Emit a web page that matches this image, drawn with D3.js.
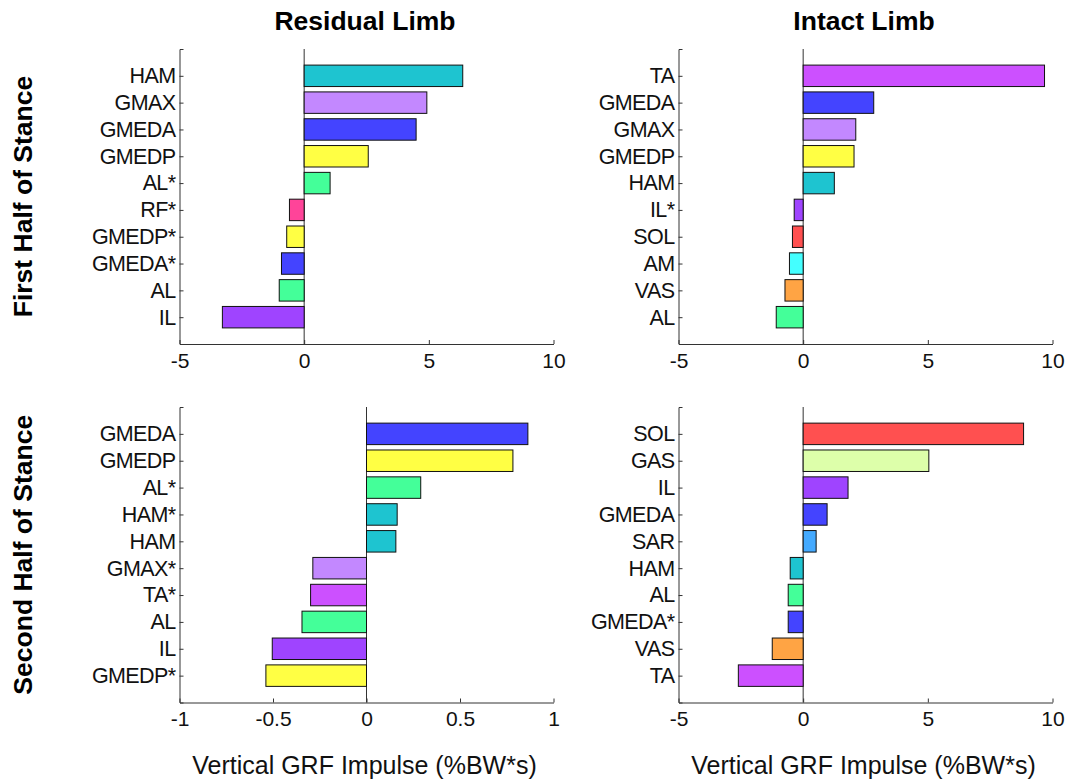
<!DOCTYPE html>
<html>
<head>
<meta charset="utf-8">
<script src="https://cdn.jsdelivr.net/npm/d3@7"></script>
<style>
  body { margin: 0; background: #fff; }
  svg, svg text { font-family: "Liberation Sans", Arial, sans-serif; }
</style>
</head>
<body>
<svg id="chart" width="1070" height="780"></svg>
<script>
// muscles per panel, listed top to bottom
const resFirstLabels = ['HAM', 'GMAX', 'GMEDA', 'GMEDP', 'AL*', 'RF*', 'GMEDP*', 'GMEDA*', 'AL', 'IL']
const resFirstValues = [6.36, 4.92, 4.49, 2.57, 1.04, -0.59, -0.70, -0.91, -1.0, -3.28]

const intFirstLabels = ['TA', 'GMEDA', 'GMAX', 'GMEDP', 'HAM', 'IL*', 'SOL', 'AM', 'VAS', 'AL']
const intFirstValues = [9.68, 2.83, 2.11, 2.04, 1.25, -0.36, -0.43, -0.55, -0.73, -1.08]

const resSecondLabels = ['GMEDA', 'GMEDP', 'AL*', 'HAM*', 'HAM', 'GMAX*', 'TA*', 'AL', 'IL', 'GMEDP*']
const resSecondValues = [0.863, 0.783, 0.29, 0.164, 0.157, -0.287, -0.299, -0.345, -0.504, -0.538]

const intSecondLabels = ['SOL', 'GAS', 'IL', 'GMEDA', 'SAR', 'HAM', 'AL', 'GMEDA*', 'VAS', 'TA']
const intSecondValues = [8.84, 5.04, 1.8, 0.96, 0.52, -0.52, -0.6, -0.6, -1.24, -2.6]

const bigTicks = [-5, 0, 5, 10]
const smallTicks = [-1, -0.5, 0, 0.5, 1]

const colTitles = ['Residual Limb', 'Intact Limb']
const rowTitles = ['First Half of Stance', 'Second Half of Stance']
const xTitle = 'Vertical GRF Impulse (%BW*s)'

const muscleColor = {
    HAM: '#1ec4d0', GMAX: '#c388ff', GMEDA: '#4444ff', GMEDP: '#ffff44',
    AL: '#44ff99', RF: '#ff4499', IL: '#9f44ff', TA: '#cc50ff',
    SOL: '#ff5050', AM: '#44ffff', VAS: '#ffa444', GAS: '#ddffaa', SAR: '#44aaff'
}

const svg = d3.select('#chart')

const colX = [[179.5, 553.5], [678.5, 1052.5]]
const rowY = [[49, 344], [407, 702.5]]

const panels = [
    { labels: resFirstLabels, values: resFirstValues, domain: [-5, 10], ticks: bigTicks, c: 0, r: 0 },
    { labels: intFirstLabels, values: intFirstValues, domain: [-5, 10], ticks: bigTicks, c: 1, r: 0 },
    { labels: resSecondLabels, values: resSecondValues, domain: [-1, 1], ticks: smallTicks, c: 0, r: 1 },
    { labels: intSecondLabels, values: intSecondValues, domain: [-5, 10], ticks: bigTicks, c: 1, r: 1 }
]

panels.forEach(p => {
    const x = d3.scaleLinear().domain(p.domain).range(colX[p.c])
    const y = d3.scaleLinear().domain([0, p.labels.length + 1]).range(rowY[p.r])
    const step = y(1) - y(0)
    const barH = step * 0.8

    const g = svg.append('g')

    // zero line
    g.append('line')
        .attr('x1', x(0)).attr('x2', x(0))
        .attr('y1', rowY[p.r][0]).attr('y2', rowY[p.r][1])
        .attr('stroke', '#333').attr('stroke-width', 1)

    g.selectAll('rect')
        .data(p.values)
        .enter()
        .append('rect')
            .attr('x', d => Math.min(x(0), x(d)))
            .attr('width', d => Math.abs(x(d) - x(0)))
            .attr('y', (d, i) => y(i + 1) - barH / 2)
            .attr('height', barH)
            .attr('fill', (d, i) => muscleColor[p.labels[i].replace('*', '')])
            .attr('stroke', '#111')
            .attr('stroke-width', 1)

    const xAxis = d3.axisBottom(x)
        .tickValues(p.ticks)
        .tickFormat(d => String(d))
        .tickSize(-4).tickSizeOuter(0).tickPadding(9)

    const yAxis = d3.axisLeft(y)
        .tickValues(d3.range(1, p.labels.length + 1))
        .tickFormat(d => p.labels[d - 1])
        .tickSize(-4).tickSizeOuter(-4).tickPadding(4)

    const xg = g.append('g')
        .attr('transform', `translate(0,${rowY[p.r][1]})`)
        .call(xAxis)
        .attr('font-family', null)
    xg.selectAll('text').attr('font-size', 21).attr('fill', '#111')

    const yg = g.append('g')
        .attr('transform', `translate(${colX[p.c][0]},0)`)
        .call(yAxis)
        .attr('font-family', null)
    yg.selectAll('text').attr('font-size', 21.5).attr('letter-spacing', -0.6).attr('fill', '#111')

    g.selectAll('.domain, .tick line').attr('stroke', '#333')
})

// column titles
colTitles.forEach((t, c) => {
    svg.append('text')
        .attr('x', (colX[c][0] + colX[c][1]) / 2 - 1.5)
        .attr('y', 30)
        .attr('text-anchor', 'middle')
        .attr('font-size', 26.5)
        .attr('font-weight', 'bold')
        .text(t)
})

// row titles
rowTitles.forEach((t, r) => {
    const cy = (rowY[r][0] + rowY[r][1]) / 2
    svg.append('text')
        .attr('transform', `translate(32,${cy}) rotate(-90)`)
        .attr('text-anchor', 'middle')
        .attr('font-size', 26.5)
        .attr('font-weight', 'bold')
        .text(t)
})

// x axis titles
colX.forEach(cx => {
    svg.append('text')
        .attr('x', (cx[0] + cx[1]) / 2 - 2)
        .attr('y', 774)
        .attr('text-anchor', 'middle')
        .attr('font-size', 25)
        .attr('fill', '#111')
        .text(xTitle)
})
</script>
</body>
</html>
